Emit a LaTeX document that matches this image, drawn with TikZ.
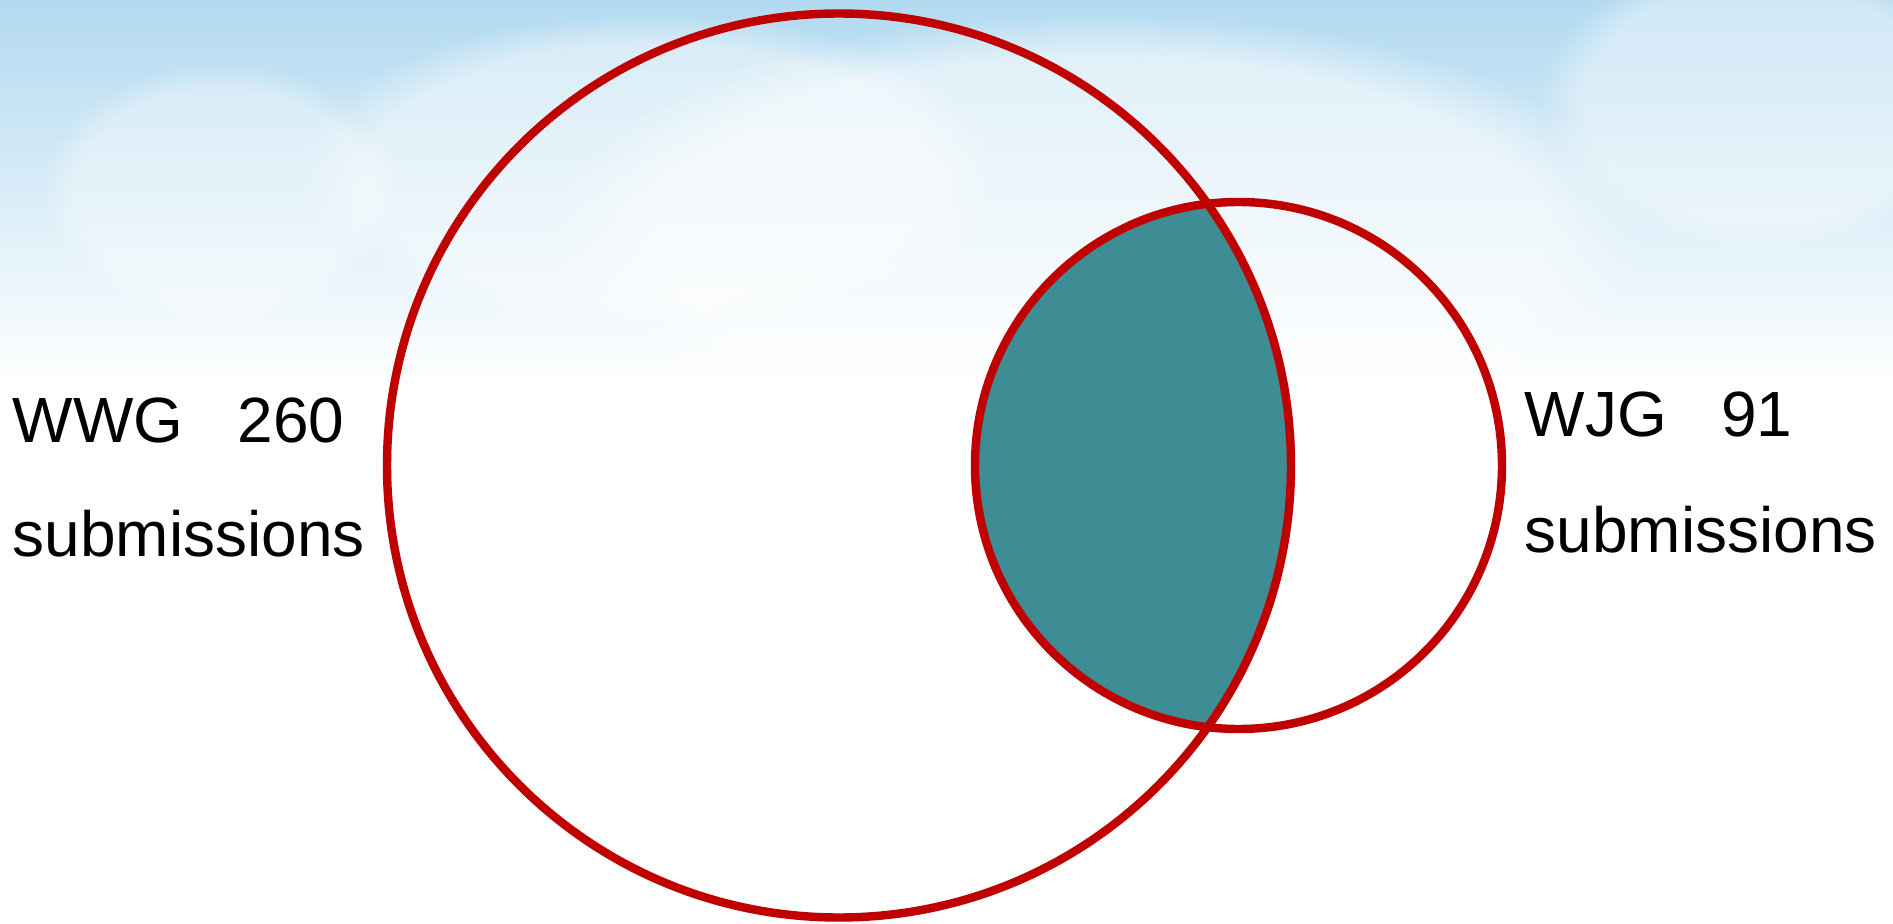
\documentclass[tikz,border=0pt]{standalone}
\usepackage{fontspec}
\setmainfont{Liberation Sans}
\usepackage{xcolor}
\usetikzlibrary{positioning, fadings, calc}

\definecolor{ringred}{HTML}{C00000}
\definecolor{overlapteal}{HTML}{3F8D94}
\definecolor{skyblue}{HTML}{B2DAF0}

\begin{document}
\begin{tikzpicture}[
    % Styles
    ring/.style={draw=ringred, line width=2.4pt},
    overlap/.style={fill=overlapteal},
    cloud/.style={fill=white, path fading=circle with fuzzy edge 20 percent},
    setlabel/.style={font=\fontsize{18.2}{22}\selectfont, inner sep=0pt, text=black},
]
\useasboundingbox (0,0) rectangle (18.93,9.23);

% ── Sky background ──
\shade[top color=skyblue, bottom color=white] (0,5.4) rectangle (18.93,9.23);
\fill[white] (0,0) rectangle (18.93,5.41);
\fill[cloud, opacity=0.55] (11.0,6.9) ellipse (5.5cm and 2.2cm);
\fill[cloud, opacity=0.45] (6.5,7.5) ellipse (3.5cm and 1.6cm);
\fill[cloud, opacity=0.4] (17.6,8.2) ellipse (2.2cm and 1.5cm);
\fill[cloud, opacity=0.35] (2.2,7.3) ellipse (1.8cm and 1.3cm);

% ── Circles ──
\coordinate (wwgc) at (8.39,4.575);
\coordinate (wjgc) at (12.385,4.575);

\begin{scope}
    \clip (wwgc) circle (4.52);
    \fill[overlap] (wjgc) circle (2.635);
\end{scope}

\draw[ring] (wwgc) circle (4.52);
\draw[ring] (wjgc) circle (2.635);

% ── Labels ──
\node[setlabel, anchor=base west] (wwg) at (0.12,4.80) {WWG\hspace{0.85em}260};
\node[setlabel, anchor=base west] (wwgsub) at ([yshift=-1.13cm]wwg.base west) {submissions};

\node[setlabel, anchor=base west] (wjg) at (15.24,4.86) {WJG\hspace{0.85em}91};
\node[setlabel, anchor=base west] (wjgsub) at ([yshift=-1.15cm]wjg.base west) {submissions};

\end{tikzpicture}
\end{document}
